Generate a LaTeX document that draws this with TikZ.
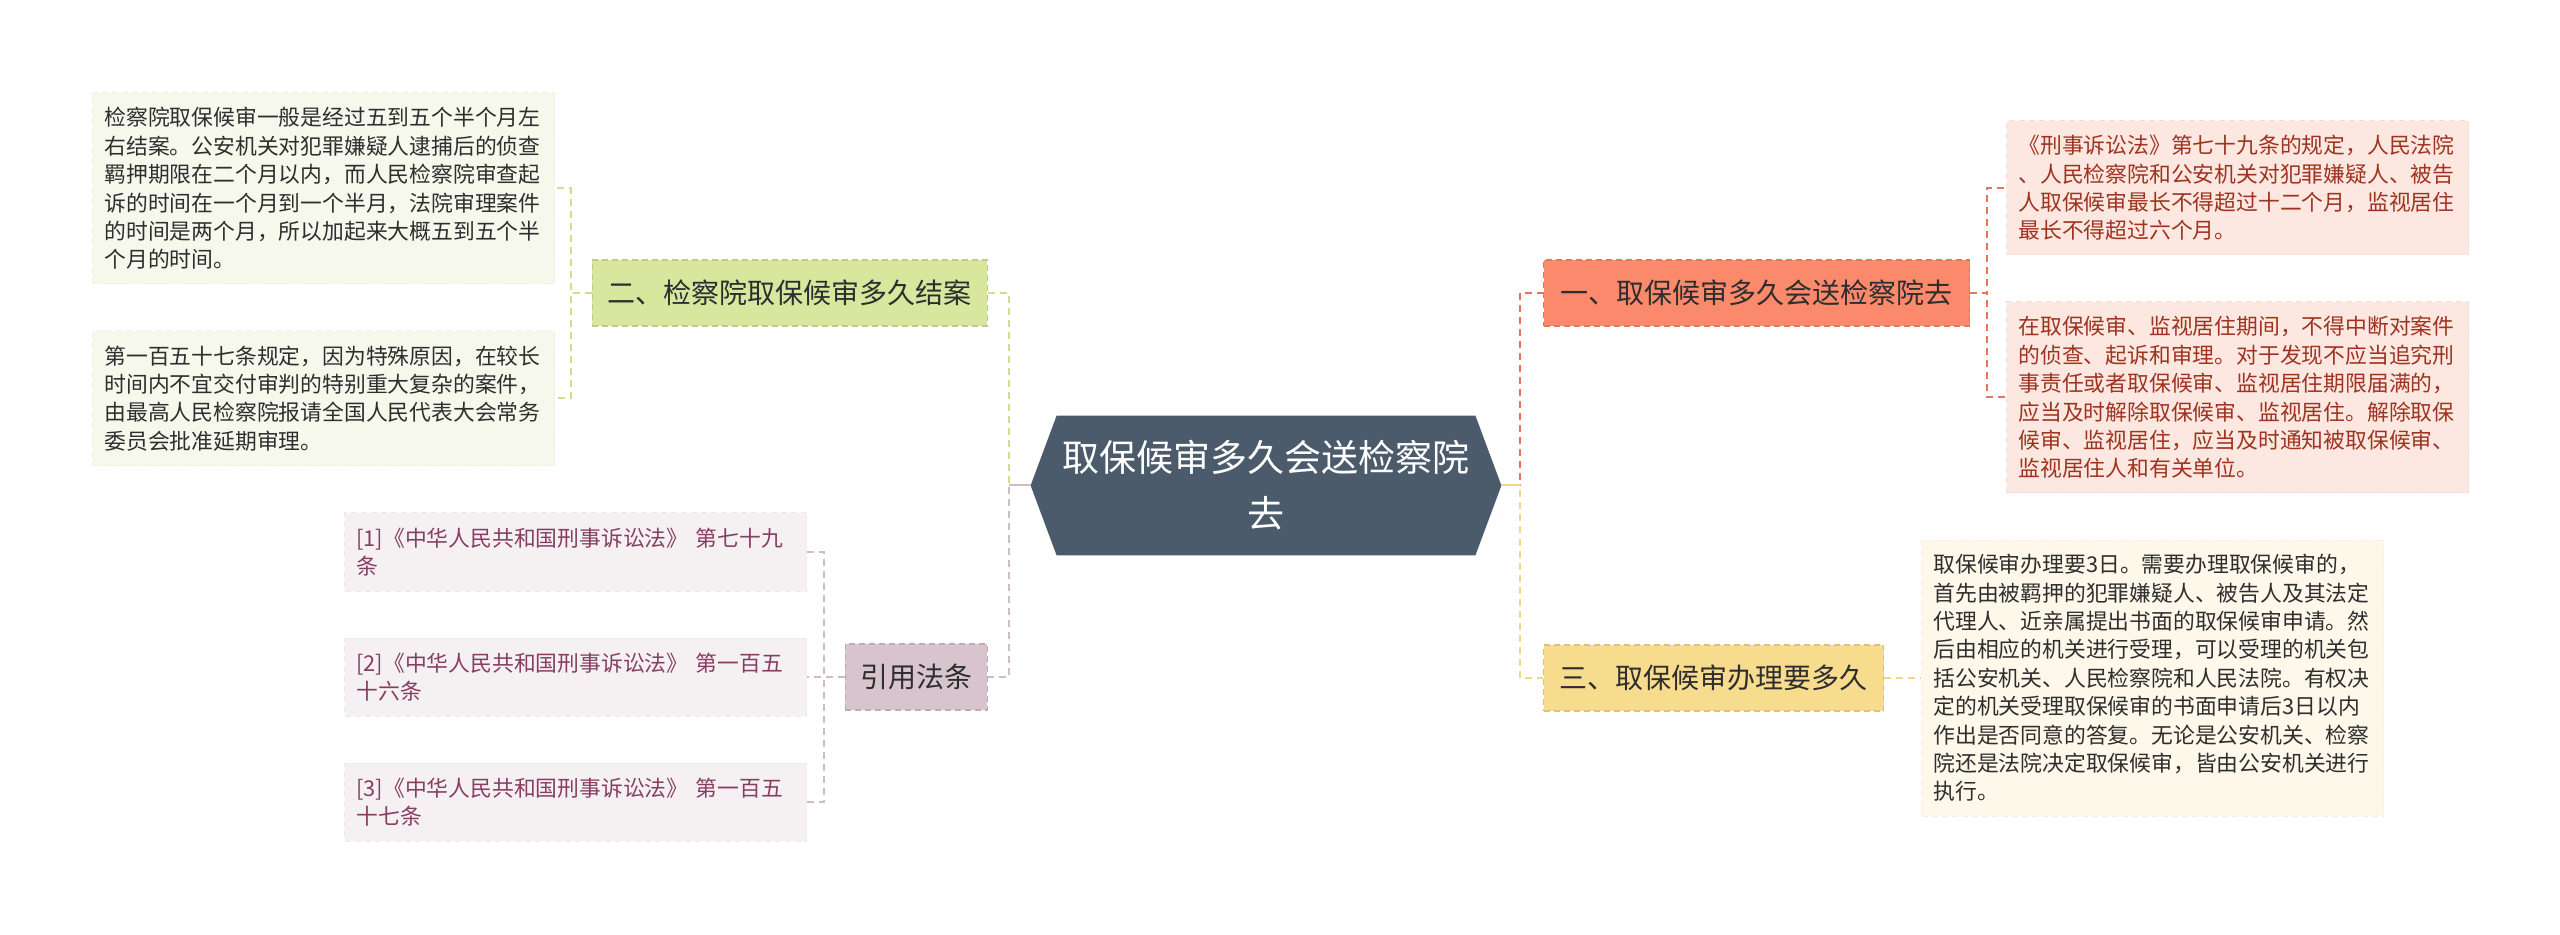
\documentclass[tikz,border=0pt]{standalone}
\usepackage{fontspec}
\setmainfont{Noto Sans CJK SC}
\usetikzlibrary{calc}
\definecolor{centralfill}{HTML}{4B5B6B}
\definecolor{greenbox}{HTML}{D8E79D}
\definecolor{greenline}{HTML}{CFE08C}
\definecolor{greenleaf}{HTML}{F6F8EC}
\definecolor{redbox}{HTML}{FA8A6B}
\definecolor{redline}{HTML}{E9735B}
\definecolor{redleaf}{HTML}{FDE7E1}
\definecolor{redtext}{HTML}{9E3420}
\definecolor{goldbox}{HTML}{F8DC8E}
\definecolor{goldline}{HTML}{F3D68A}
\definecolor{goldleaf}{HTML}{FDF8E9}
\definecolor{mauvebox}{HTML}{D8C4CC}
\definecolor{mauveline}{HTML}{CDBDC5}
\definecolor{mauveleaf}{HTML}{F5F0F2}
\definecolor{mauvetext}{HTML}{873E63}
\definecolor{darktext}{HTML}{2E2E2E}
\tikzset{
  lvone/.style={draw=#1!88!black, fill=#1, dashed, dash pattern=on 3pt off 2pt, line width=0.6pt,
    inner sep=0pt, minimum height=33pt, text=darktext, font=\fontsize{14}{17}\selectfont},
  leafbox/.style={draw=#1!97!black, fill=#1, dashed, dash pattern=on 3pt off 2pt, line width=0.5pt,
    inner xsep=6pt, inner ysep=0pt, text width=219pt, align=left,
    font=\fontsize{10.9}{14.2}\selectfont},
  conn/.style={draw=#1, line width=1pt, dashed, dash pattern=on 3.5pt off 2.5pt},
  stub/.style={draw=#1, line width=1pt}
}
\begin{document}
\begin{tikzpicture}[x=0.5pt,y=-0.5pt]
\fill[white] (0,0) rectangle (2560,935);
\useasboundingbox (0,0) rectangle (2560,935);

% central node
\node[inner sep=0pt, minimum width=222pt, minimum height=69.5pt, text=white, align=center,
  font=\fontsize{18.5}{28}\selectfont] (c) at (1266,485.5) {取保候审多久会送检察院\\去};
\fill[centralfill] ($(c.north west)+(13,0)$) -- ($(c.north east)+(-13,0)$) -- ($(c.east)+(13,0)$)
  -- ($(c.south east)+(-13,0)$) -- ($(c.south west)+(13,0)$) -- ($(c.west)+(-13,0)$) -- cycle;
\node[inner sep=0pt, text=white, align=center, font=\fontsize{18.5}{28}\selectfont] at (c) {取保候审多久会送检察院\\去};
\coordinate (cw) at ($(c.west)+(-13,0)$);
\coordinate (ce) at ($(c.east)+(13,0)$);

% level one nodes
\node[lvone=greenbox, anchor=east, minimum width=197.5pt] (n2) at (988,293) {二、检察院取保候审多久结案};
\node[lvone=mauvebox, anchor=east, minimum width=71pt] (ref) at (988,677) {引用法条};
\node[lvone=redbox, anchor=west, minimum width=213pt] (n1) at (1543,293) {一、取保候审多久会送检察院去};
\node[lvone=goldbox, anchor=west, minimum width=170pt] (n3) at (1543,678) {三、取保候审办理要多久};

% leaves of 二
\node[leafbox=greenleaf, text=darktext, anchor=east, minimum height=95.5pt] (l1) at (555,188.5) {检察院取保候审一般是经过五到五个半个月左\\右结案。公安机关对犯罪嫌疑人逮捕后的侦查\\羁押期限在二个月以内，而人民检察院审查起\\诉的时间在一个月到一个半月，法院审理案件\\的时间是两个月，所以加起来大概五到五个半\\个月的时间。};
\node[leafbox=greenleaf, text=darktext, anchor=east, minimum height=67.5pt] (l2) at (555,398.5) {第一百五十七条规定，因为特殊原因，在较长\\时间内不宜交付审判的特别重大复杂的案件，\\由最高人民检察院报请全国人民代表大会常务\\委员会批准延期审理。};

% references
\node[leafbox=mauveleaf, text=mauvetext, anchor=east, minimum height=39pt] (r1) at (807,552) {[1]《中华人民共和国刑事诉讼法》 第七十九\\条};
\node[leafbox=mauveleaf, text=mauvetext, anchor=east, minimum height=39pt] (r2) at (807,677) {[2]《中华人民共和国刑事诉讼法》 第一百五\\十六条};
\node[leafbox=mauveleaf, text=mauvetext, anchor=east, minimum height=39pt] (r3) at (807,802) {[3]《中华人民共和国刑事诉讼法》 第一百五\\十七条};

% leaves of 一
\node[leafbox=redleaf, text=redtext, anchor=west, minimum height=67pt] (a1) at (2006,188) {《刑事诉讼法》第七十九条的规定，人民法院\\、人民检察院和公安机关对犯罪嫌疑人、被告\\人取保候审最长不得超过十二个月，监视居住\\最长不得超过六个月。};
\node[leafbox=redleaf, text=redtext, anchor=west, minimum height=95.5pt] (a2) at (2006,397.5) {在取保候审、监视居住期间，不得中断对案件\\的侦查、起诉和审理。对于发现不应当追究刑\\事责任或者取保候审、监视居住期限届满的，\\应当及时解除取保候审、监视居住。解除取保\\候审、监视居住，应当及时通知被取保候审、\\监视居住人和有关单位。};

% leaf of 三
\node[leafbox=goldleaf, text=darktext, anchor=west, minimum height=138pt] (t1) at (1921,678) {取保候审办理要3日。需要办理取保候审的，\\首先由被羁押的犯罪嫌疑人、被告人及其法定\\代理人、近亲属提出书面的取保候审申请。然\\后由相应的机关进行受理，可以受理的机关包\\括公安机关、人民检察院和人民法院。有权决\\定的机关受理取保候审的书面申请后3日以内\\作出是否同意的答复。无论是公安机关、检察\\院还是法院决定取保候审，皆由公安机关进行\\执行。};

% trunk connectors
\draw[conn=greenline] (cw) -- ++(-22,0) |- (n2.east);
\draw[conn=mauveline] (cw) -- ++(-22,0) |- (ref.east);
\draw[conn=redline] (ce) -- ++(19,0) |- (n1.west);
\draw[conn=goldline] (ce) -- ++(19,0) |- (n3.west);
\draw[stub=mauveline] (cw) -- ++(-22,0);
\draw[stub=goldline] (ce) -- ++(19,0);

% branch connectors
\draw[conn=greenline] (n2.west) -- ++(-21,0) |- (l1.east);
\draw[conn=greenline] (n2.west) -- ++(-21,0) |- (l2.east);
\draw[conn=mauveline] (ref.west) -- ++(-21,0) |- (r1.east);
\draw[conn=mauveline] (ref.west) -- ++(-21,0) |- (r2.east);
\draw[conn=mauveline] (ref.west) -- ++(-21,0) |- (r3.east);
\draw[conn=redline] (n1.east) -- ++(17,0) |- (a1.west);
\draw[conn=redline] (n1.east) -- ++(17,0) |- (a2.west);
\draw[conn=goldline] (n3.east) -- (t1.west);
\end{tikzpicture}
\end{document}
